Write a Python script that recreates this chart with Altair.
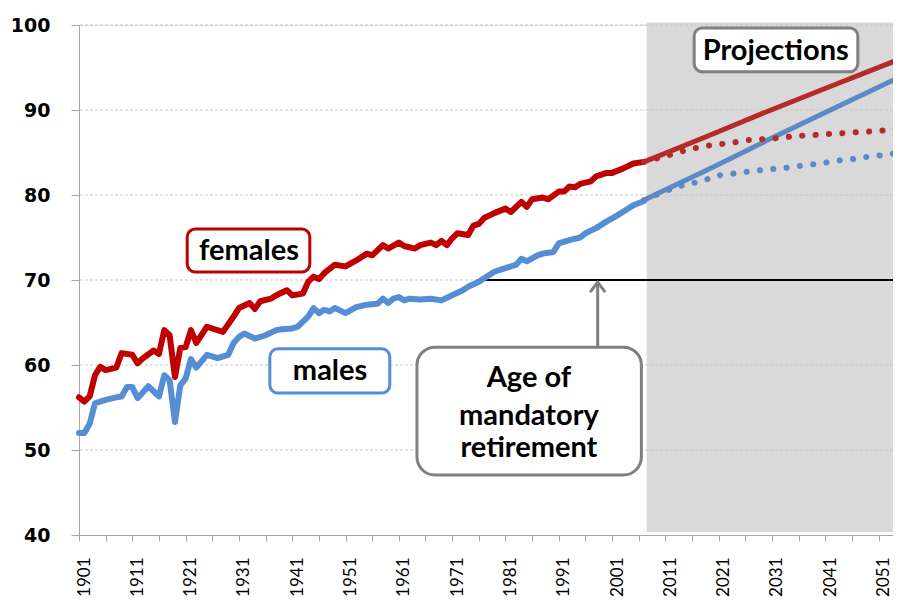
import altair as alt
import pandas as pd

# ---------------- data ----------------
fem_years = [1901, 1902, 1903, 1904, 1905, 1906, 1908, 1909, 1911, 1912, 1913, 1915, 1916,
             1917, 1918, 1919, 1920, 1921, 1922, 1923, 1925, 1928, 1930, 1931, 1933, 1934,
             1935, 1937, 1938, 1940, 1941, 1943, 1944, 1945, 1946, 1947, 1949, 1951, 1953,
             1955, 1956, 1958, 1959, 1961, 1962, 1964, 1965, 1967, 1968, 1969, 1970, 1971,
             1972, 1974, 1975, 1976, 1977, 1979, 1981, 1982, 1984, 1985, 1986, 1988, 1989,
             1991, 1992, 1993, 1994, 1995, 1997, 1998, 2000, 2001, 2003, 2005, 2007]
fem_vals = [56.2, 55.7, 56.3, 58.8, 59.8, 59.4, 59.7, 61.4, 61.2, 60.2, 60.8, 61.7, 61.3,
            64.1, 63.5, 58.6, 62.0, 62.1, 64.1, 62.6, 64.5, 63.9, 65.7, 66.7, 67.3, 66.6,
            67.5, 67.8, 68.2, 68.8, 68.2, 68.4, 69.8, 70.4, 70.1, 70.8, 71.8, 71.6, 72.3,
            73.1, 72.9, 74.1, 73.7, 74.4, 74.0, 73.7, 74.1, 74.4, 74.1, 74.6, 74.1, 74.9,
            75.5, 75.3, 76.4, 76.6, 77.3, 77.9, 78.4, 78.0, 79.2, 78.6, 79.5, 79.7, 79.5,
            80.4, 80.4, 81.0, 80.9, 81.3, 81.6, 82.2, 82.6, 82.6, 83.1, 83.7, 83.9]

male_years = [1901, 1902, 1903, 1904, 1906, 1908, 1909, 1910, 1911, 1912, 1914, 1916, 1917,
              1918, 1919, 1920, 1921, 1922, 1923, 1925, 1927, 1929, 1930, 1931, 1932, 1934,
              1936, 1938, 1939, 1941, 1942, 1944, 1945, 1946, 1947, 1948, 1949, 1951, 1953,
              1955, 1957, 1958, 1959, 1960, 1961, 1962, 1963, 1965, 1967, 1969, 1971, 1973,
              1974, 1976, 1977, 1979, 1981, 1983, 1984, 1985, 1987, 1988, 1990, 1991, 1993,
              1995, 1996, 1998, 2000, 2002, 2003, 2005, 2007]
male_vals = [52.0, 52.0, 53.1, 55.5, 55.9, 56.2, 56.3, 57.4, 57.4, 56.1, 57.5, 56.3, 58.8,
             58.2, 53.3, 57.6, 58.4, 60.7, 59.7, 61.2, 60.8, 61.2, 62.6, 63.3, 63.7, 63.1,
             63.5, 64.1, 64.2, 64.3, 64.5, 65.7, 66.7, 66.1, 66.5, 66.3, 66.7, 66.1, 66.8,
             67.1, 67.2, 67.8, 67.3, 67.8, 68.0, 67.6, 67.8, 67.7, 67.8, 67.6, 68.2, 68.8,
             69.2, 69.8, 70.2, 71.0, 71.4, 71.8, 72.5, 72.2, 72.9, 73.1, 73.3, 74.3, 74.7,
             75.0, 75.5, 76.1, 76.9, 77.6, 78.0, 78.8, 79.3]

projf_years = [2007, 2020, 2030, 2040, 2055]
projf_vals = [83.9, 87.2, 89.8, 92.3, 96.0]
projm_years = [2007, 2020, 2030, 2040, 2055]
projm_vals = [79.4, 83.3, 86.4, 89.4, 93.9]

dotf_years = [2007, 2010, 2013, 2015, 2018, 2020, 2023, 2025, 2027, 2030, 2032, 2035,
              2037, 2040, 2042, 2045, 2047, 2050, 2052, 2055]
dotf_vals = [83.9, 84.4, 84.9, 85.3, 85.7, 85.9, 86.1, 86.3, 86.5, 86.6, 86.7, 86.9,
             87.0, 87.1, 87.2, 87.3, 87.4, 87.5, 87.6, 87.8]
dotm_years = [2007, 2010, 2013, 2015, 2018, 2020, 2022, 2025, 2027, 2030, 2032, 2035,
              2037, 2040, 2042, 2044, 2047, 2049, 2052, 2055]
dotm_vals = [79.4, 80.2, 80.9, 81.3, 81.6, 82.2, 82.4, 82.6, 82.8, 83.0, 83.1, 83.3,
             83.5, 83.7, 83.9, 84.1, 84.3, 84.5, 84.7, 85.0]

y_ticks = [40, 50, 60, 70, 80, 90, 100]
grid_vals = [50, 60, 70, 80, 90, 100]
x_ticks = list(range(1901, 2056, 5))
first_year, last_year = 1901, 2055
visible_end = 2053.7          # page edge cuts the plot just before the last year
proj_start = 2007.5
retire_age, retire_from = 70, 1977

# ---------------- helpers ----------------
def df(xs, ys):
    return pd.DataFrame({"year": xs, "value": ys})

X = alt.X("year:Q", title=None,
          scale=alt.Scale(domain=[first_year, visible_end], nice=False, zero=False),
          axis=alt.Axis(values=x_ticks, format="d",
                        labelExpr="(datum.value - 1901) % 10 == 0 ? datum.label : ''",
                        labelAngle=270, labelFont="Lato", labelFontSize=17,
                        labelColor="#000000", labelPadding=16, labelOverlap=False,
                        labelFlush=False, labelBound=False, labelOffset=5,
                        tickColor="#a6a6a6", tickSize=6, domainColor="#a6a6a6",
                        grid=False))
Y = alt.Y("value:Q", title=None,
          scale=alt.Scale(domain=[40, 100], nice=False, zero=False),
          axis=alt.Axis(values=y_ticks, labelFont="DejaVu Sans", labelFontWeight="bold",
                        labelFontSize=19, labelColor="#000000", labelPadding=21,
                        tickColor="#a6a6a6", tickSize=8, domainColor="#a6a6a6",
                        grid=False))

shade = alt.Chart(pd.DataFrame({"year": [proj_start], "year2": [last_year],
                                "value": [40.35], "value2": [100.3]})).mark_rect(
    color="#d9d9d9").encode(x=X, x2="year2:Q", y=Y, y2="value2:Q")

grid = alt.Chart(pd.DataFrame({"value": grid_vals})).mark_rule(
    color="#c8c8c8", strokeWidth=1, strokeDash=[3, 2]).encode(y=Y)

retire = alt.Chart(pd.DataFrame({"year": [retire_from], "year2": [last_year],
                                 "value": [retire_age]})).mark_rule(
    color="#000000", strokeWidth=2).encode(x=X, x2="year2:Q", y=Y)

def line(data, color, width, dash=None):
    kw = dict(color=color, strokeWidth=width, strokeJoin="round", strokeCap="round")
    if dash:
        kw["strokeDash"] = dash
    return alt.Chart(data).mark_line(**kw).encode(x=X, y=Y, order="year:Q")

hist_f = line(df(fem_years, fem_vals), "#c00000", 6)
hist_m = line(df(male_years, male_vals), "#558ed5", 6)
proj_f = line(df(projf_years, projf_vals), "#b52a2a", 5)
proj_m = line(df(projm_years, projm_vals), "#5b8ac6", 5)
dot_f = line(df(dotf_years, dotf_vals), "#b52a2a", 6, [0.1, 13.3])
dot_m = line(df(dotm_years, dotm_vals), "#5b8ac6", 6, [0.1, 13.3])

# arrow
arrow_x = 1998.3
shaft = alt.Chart(pd.DataFrame({"year": [arrow_x], "value": [62.1], "value2": [69.5]})).mark_rule(
    color="#808080", strokeWidth=3).encode(x=X, y=Y, y2="value2:Q")
head = alt.Chart(pd.DataFrame({"year": [arrow_x], "value": [69.75]})).mark_point(
    shape="M -0.75 1 L 0 0 L 0.75 1", filled=False, size=400, strokeWidth=3,
    color="#808080", opacity=1, strokeJoin="miter").encode(x=X, y=Y)

# annotation boxes
def box(x1, x2, y1, y2, stroke, radius):
    return alt.Chart(pd.DataFrame({"year": [x1], "year2": [x2], "value": [y1], "value2": [y2]})).mark_rect(
        fill="#ffffff", stroke=stroke, strokeWidth=3, cornerRadius=radius).encode(
        x=X, x2="year2:Q", y=Y, y2="value2:Q")

box_f = box(1921.3, 1944.3, 70.95, 76.0, "#c00000", 8)
box_m = box(1936.8, 1959.3, 56.7, 61.9, "#558ed5", 8)
box_p = box(2016.4, 2047.1, 94.5, 99.65, "#808080", 8)
box_a = box(1964.4, 2006.5, 47.05, 62.1, "#808080", 18)

labels = alt.Chart(pd.DataFrame({
    "year": [1932.9, 1948.1, 2031.7, 1985.4, 1985.4, 1985.4],
    "value": [73.45, 59.25, 97.0, 58.45, 54.05, 50.2],
    "text": ["females", "males", "Projections", "Age of", "mandatory", "retirement"],
})).mark_text(font="Lato", fontWeight="bold", fontSize=29, color="#000000",
              align="center", baseline="middle").encode(x=X, y=Y, text="text:N")

chart = alt.layer(shade, grid, retire, hist_f, hist_m, proj_f, proj_m, dot_f, dot_m,
                  shaft, head, box_f, box_m, box_p, box_a, labels).properties(
    width=814, height=510,
    autosize=alt.AutoSizeParams(type="none"),
    padding={"left": 71, "top": 17, "right": 0, "bottom": 65},
).configure_view(stroke=None).configure(background="#ffffff")

chart.save("out.html", embed_options={"renderer": "svg", "actions": False})
